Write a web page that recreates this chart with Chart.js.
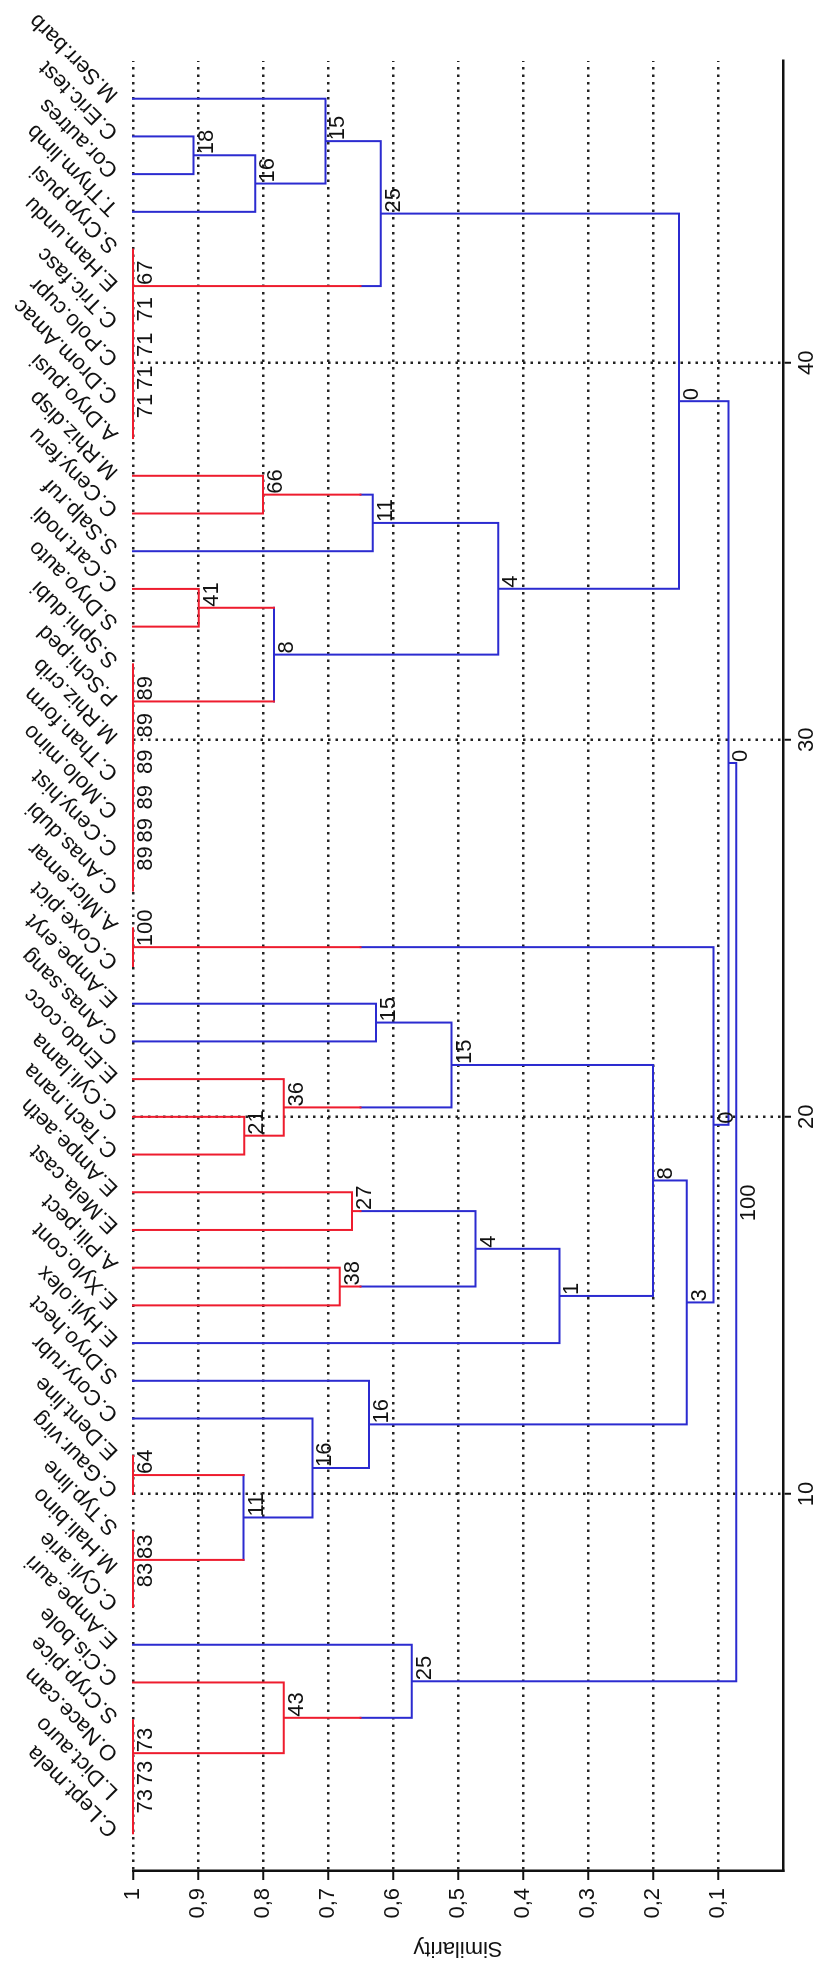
<!DOCTYPE html>
<html>
<head>
<meta charset="utf-8">
<title>Dendrogram</title>
<script src="https://cdn.jsdelivr.net/npm/chart.js@4.4.1/dist/chart.umd.min.js"></script>
<style>
    html, body { margin: 0; padding: 0; background: #fff; overflow: hidden; width: 818px; height: 1961px; }
    /* the chart is drawn landscape and turned a quarter turn, like the source figure */
    #wrap {
        position: absolute; left: 0; top: 0;
        width: 1961px; height: 818px;
        transform-origin: 0 0;
        transform: translateY(1961px) rotate(-90deg);
    }
</style>
</head>
<body>
<div id="wrap"><canvas id="dendro" width="1961" height="818"></canvas></div>
<script>
const leafNames = [
    'C.Lept.mela', 'L.Dict.auro', 'O.Nace.cam', 'S.Cryp.pice', 'C.Cis.bole',
    'E.Ampe.auri', 'C.Cyli.arie', 'M.Hali.bino', 'S.Typ.line', 'C.Gaur.virg',
    'E.Dent.line', 'C.Cory.rubr', 'S.Dryo.hect', 'E.Hyli.olex', 'E.Xylo.cont',
    'A.Pili.pect', 'E.Mela.cast', 'E.Ampe.aeth', 'C.Tach.nana', 'C.Cyli.lama',
    'E.Endo.cocc', 'C.Anas.sang', 'E.Ampe.eryt', 'C.Coxe.pict', 'A.Micr.emar',
    'C.Anas.dubi', 'C.Ceny.hist', 'C.Molo.mino', 'C.Than.form', 'M.Rhiz.crib',
    'P.Schi.ped', 'S.Sphi.dubi', 'S.Dryo.auto', 'C.Cart.nodi', 'S.Salp.ruf',
    'C.Ceny.feru', 'M.Rhiz.disp', 'A.Dryo.pusi', 'C.Drom.Amac', 'C.Polo.cupr',
    'C.Tric.fasc', 'E.Ham.undu', 'S.Cryp.pusi', 'T.Thym.limb', 'Cor.autres',
    'C.Eric.test', 'M.Serr.barb'
];
const simTicks = [0.1, 0.2, 0.3, 0.4, 0.5, 0.6, 0.7, 0.8, 0.9, 1];
const leafTicks = [10, 20, 30, 40];

// linkage: node ids 1..47 are leaves, merge k creates node 48 + k
const mergeLeft  = [1, 48, 49, 50, 51, 7, 53, 10, 54, 56, 57, 15, 17, 59, 14, 19, 63, 22, 64, 62, 58, 24, 68,
                    26, 71, 72, 73, 74, 75, 33, 76, 36, 35, 78, 38, 82, 83, 84, 85, 45, 44, 88, 86, 81, 70, 52];
const mergeRight = [2, 3, 4, 5, 6, 8, 9, 11, 55, 12, 13, 16, 18, 60, 61, 20, 21, 23, 65, 66, 67, 25, 69,
                    27, 28, 29, 30, 31, 32, 34, 77, 37, 79, 80, 39, 40, 41, 42, 43, 46, 87, 47, 89, 90, 91, 92];
const mergeSim   = [1, 1, 1, 0.768, 0.571, 1, 1, 1, 0.83, 0.724, 0.637, 0.682, 0.663, 0.473, 0.344, 0.829, 0.768,
                    0.626, 0.51, 0.20, 0.148, 1, 0.107, 1, 1, 1, 1, 1, 1, 0.899, 0.783, 0.80, 0.631, 0.438,
                    1, 1, 1, 1, 1, 0.907, 0.812, 0.704, 0.619, 0.16, 0.084, 0.072];
const mergeLabel = ['73', '73', '73', '43', '25', '83', '83', '64', '11', '16', '16', '38', '27', '4', '1', '21', '36',
                    '15', '15', '8', '3', '100', '0', '89', '89', '89', '89', '89', '89', '41', '8', '66', '11', '4',
                    '71', '71', '71', '71', '67', '18', '16', '15', '25', '0', '0', '100'];
// 1 = homogeneous group (drawn red), 0 = significant split (drawn blue)
const mergeHomog = [1, 1, 1, 1, 0, 1, 1, 1, 0, 0, 0, 1, 1, 0, 0, 1, 1, 0, 0, 0, 0, 1, 0,
                    1, 1, 1, 1, 1, 1, 1, 0, 1, 0, 0, 1, 1, 1, 1, 1, 0, 0, 0, 0, 0, 0, 0];

const nLeaves = leafNames.length;
const CUT = 0.65;          // red stops at this similarity on the way down
const RED = '#ee1c2e';
const BLUE = '#2b2bd0';
const INK = '#111';
const FONT = { family: '"Liberation Sans", Arial, Helvetica, sans-serif', size: 22 };

Chart.defaults.font.family = FONT.family;
Chart.defaults.font.size = FONT.size;
Chart.defaults.color = INK;

// usual dendrogram layout: leaf i at x = i, a merge halfway between its children
const nodePos = {}, nodeSim = {}, nodeRed = {};
for (let i = 1; i <= nLeaves; i++) {
    nodePos[i] = i;
    nodeSim[i] = 1;
}
mergeLeft.forEach((a, k) => {
    const id = nLeaves + 1 + k;
    const b = mergeRight[k];
    nodePos[id] = (nodePos[a] + nodePos[b]) / 2;
    nodeSim[id] = mergeSim[k];
    nodeRed[id] = mergeHomog[k] == 1;
    if (a <= nLeaves) nodeRed[a] = nodeRed[id];
    if (b <= nLeaves) nodeRed[b] = nodeRed[id];
});

const redPts = [];
const bluePts = [];
function seg(arr, x1, y1, x2, y2) {
    arr.push({ x: x1, y: y1 }, { x: x2, y: y2 }, { x: NaN, y: NaN });
}

mergeLeft.forEach((a, k) => {
    const id = nLeaves + 1 + k;
    const b = mergeRight[k];
    const h = mergeSim[k];
    [a, b].forEach(c => {
        const p = nodePos[c];
        const hc = nodeSim[c];
        if (nodeRed[c]) {
            if (h >= CUT) {
                seg(redPts, p, hc, p, h);
            } else {
                seg(redPts, p, hc, p, CUT);
                seg(bluePts, p, CUT, p, h);
            }
        } else {
            seg(bluePts, p, hc, p, h);
        }
    });
    seg(nodeRed[id] ? redPts : bluePts, nodePos[a], h, nodePos[b], h);
});

// numbers written next to every merge
const mergeText = {
    id: 'mergeText',
    afterDatasetsDraw(chart) {
        const { ctx, scales: { x, y } } = chart;
        ctx.save();
        ctx.font = FONT.size + 'px ' + FONT.family;
        ctx.fillStyle = INK;
        ctx.textAlign = 'left';
        ctx.textBaseline = 'top';
        mergeLabel.forEach((t, k) => {
            const id = nLeaves + 1 + k;
            ctx.fillText(t, x.getPixelForValue(nodePos[id]) + 1, y.getPixelForValue(mergeSim[k]) + 2);
        });
        ctx.restore();
    }
};

const lineSet = (pts, color) => ({
    data: pts,
    showLine: true,
    spanGaps: false,
    borderColor: color,
    borderWidth: 2,
    borderCapStyle: 'square',
    pointRadius: 0,
    clip: false
});

new Chart(document.getElementById('dendro'), {
    type: 'scatter',
    data: {
        datasets: [lineSet(redPts, RED), lineSet(bluePts, BLUE)]
    },
    options: {
        responsive: false,
        animation: false,
        devicePixelRatio: 1,
        layout: { padding: { right: 61 } },
        plugins: {
            legend: { display: false },
            tooltip: { enabled: false }
        },
        scales: {
            x: {
                type: 'linear',
                position: 'bottom',
                min: 0,
                max: 48,
                afterBuildTicks: s => { s.ticks = leafTicks.map(v => ({ value: v })); },
                afterFit: s => { s.height = 35; s.paddingLeft = 0; s.paddingRight = 0; },
                ticks: { autoSkip: false, maxRotation: 0, padding: 3 },
                grid: { color: '#222', lineWidth: 2.5, tickLength: 8, tickColor: INK, tickWidth: 2, tickBorderDash: [] },
                border: { display: true, color: INK, width: 2.5, dash: [2.5, 5] }
            },
            x2: {
                type: 'linear',
                position: 'top',
                axis: 'x',
                min: 0,
                max: 48,
                afterBuildTicks: s => { s.ticks = leafNames.map((n, i) => ({ value: i + 1 })); },
                afterFit: s => { s.height = 133; s.paddingLeft = 0; s.paddingRight = 0; },
                ticks: {
                    autoSkip: false,
                    minRotation: 45,
                    maxRotation: 45,
                    padding: 9,
                    labelOffset: 19,
                    callback: v => leafNames[v - 1]
                },
                grid: { display: false, drawTicks: false },
                border: { display: false }
            },
            y: {
                type: 'linear',
                position: 'left',
                min: 0,
                max: 1,
                afterBuildTicks: s => { s.ticks = simTicks.map(v => ({ value: v })); },
                afterFit: s => { s.width = 90; s.paddingTop = 0; s.paddingBottom = 0; },
                ticks: { padding: 8, callback: v => String(v).replace('.', ',') },
                grid: { color: '#222', lineWidth: 2.5, tickLength: 9, tickColor: INK, tickWidth: 2, tickBorderDash: [] },
                border: { display: true, color: INK, width: 2.5, dash: [2.5, 5] },
                title: { display: true, text: 'Similarity', padding: { top: 0, bottom: 4 } }
            }
        }
    },
    plugins: [mergeText]
});
</script>
</body>
</html>
